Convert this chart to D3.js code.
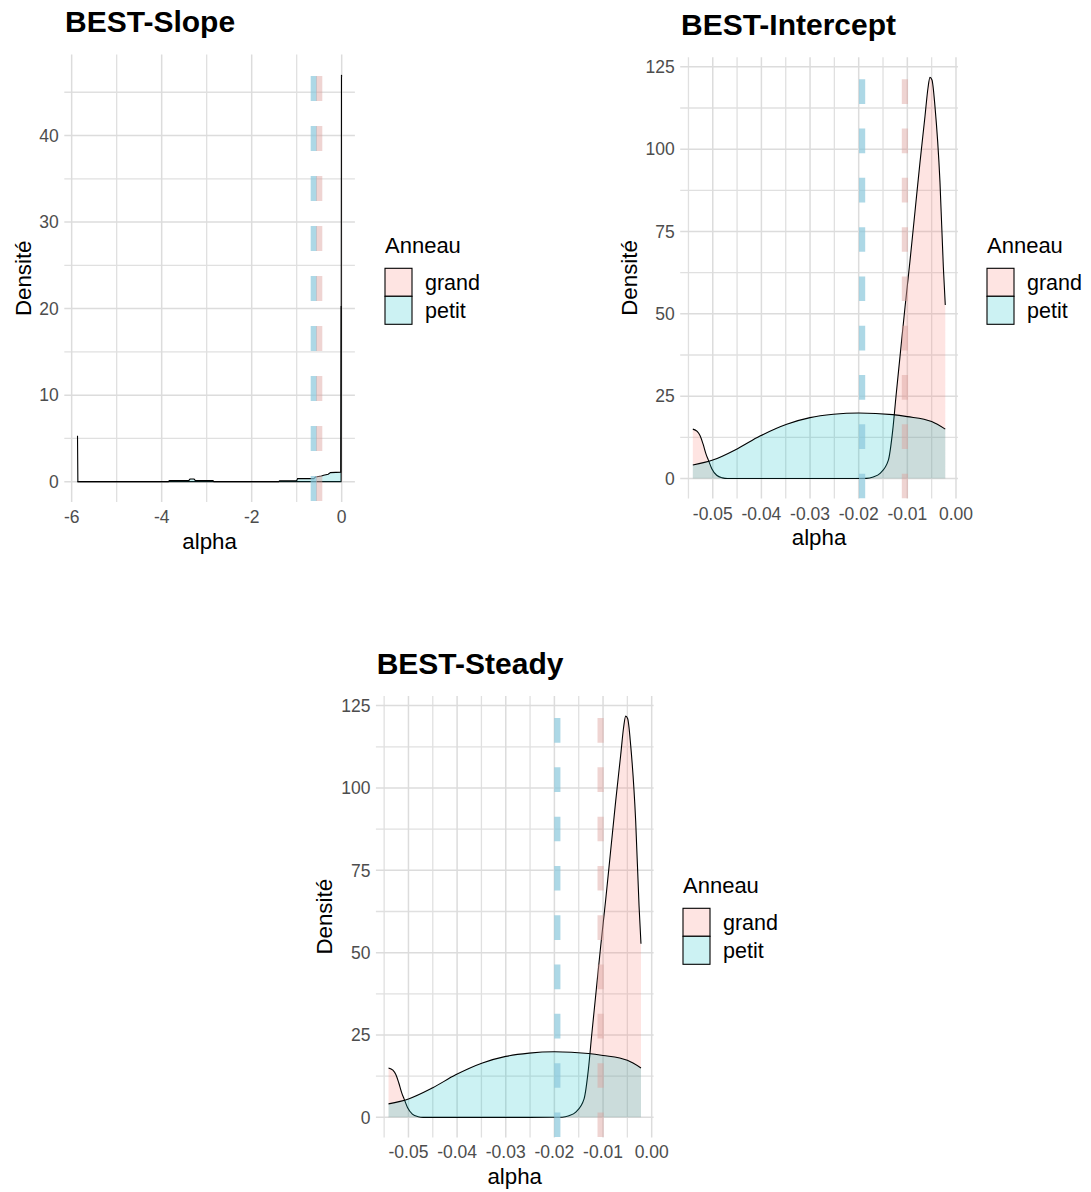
<!DOCTYPE html>
<html>
<head>
<meta charset="utf-8">
<script src="https://cdn.jsdelivr.net/npm/d3@7"></script>
<style>
  body { margin: 0; background: #fff; }
  svg { display: block; }
  text { font-family: "Liberation Sans", Arial, Helvetica, sans-serif; }
</style>
</head>
<body>
<svg id="chart" width="1091" height="1192"></svg>
<script>
// ---------------- DATA ----------------
const groups = ["grand", "petit"];
const legendTitle = "Anneau";
const xAxisTitle = "alpha";
const yAxisTitle = "Densité";
const panelTitles = ["BEST-Slope", "BEST-Intercept", "BEST-Steady"];

// BEST-Slope densities
const slopeGrandX = [-5.87, -0.014, -0.005, 0.0];
const slopeGrandY = [0, 0, 47.0, 46.8];
const slopePetitX = [-5.87, -5.862, -3.85, -3.83, -3.40, -3.37, -3.28, -3.25, -2.86, -2.84, -1.40, -1.38, -1.00, -0.98, -0.62, -0.58, -0.45, -0.40, -0.30, -0.25, -0.02, -0.012];
const slopePetitY = [5.3, 0, 0, 0.12, 0.12, 0.3, 0.3, 0.12, 0.12, 0, 0, 0.1, 0.12, 0.35, 0.35, 0.55, 0.65, 0.75, 0.85, 1.05, 1.1, 20.3];
const slopeMeans = { petit: -0.62, grand: -0.50 };
const slopeXTicks = [-6, -4, -2, 0];
const slopeXTickLabels = ["-6", "-4", "-2", "0"];
const slopeXMinor = [-5, -3, -1];
const slopeYTicks = [0, 10, 20, 30, 40];
const slopeYTickLabels = ["0", "10", "20", "30", "40"];
const slopeYMinor = [5, 15, 25, 35, 45];

// BEST-Intercept densities
const interceptGrandX = [-0.0541, -0.0532, -0.0526, -0.0520, -0.0514, -0.0509, -0.0502, -0.0492, -0.0480, -0.0470, -0.0400, -0.0250, -0.0184, -0.0170, -0.0156, -0.0139, -0.0130, -0.01233, -0.01151, -0.01048, -0.00946, -0.00843, -0.0074, -0.00637, -0.00576, -0.00535, -0.00493, -0.00432, -0.00329, -0.0026, -0.0022];
const interceptGrandY = [15.0, 14.3, 13.0, 10.5, 7.5, 5.6, 3.0, 1.0, 0.2, 0, 0, 0, 0.05, 0.5, 1.6, 5.6, 14.7, 25, 37, 52, 66, 81, 96, 110, 118.5, 121.8, 121, 113, 90, 64.3, 52.7];
const interceptPetitX = [-0.0541, -0.0500, -0.0450, -0.0403, -0.0348, -0.0300, -0.0252, -0.0200, -0.0130, -0.0100, -0.0050, -0.0022];
const interceptPetitY = [4.1, 5.6, 9.0, 12.9, 16.5, 18.5, 19.5, 19.9, 19.4, 18.8, 17.3, 15.0];
const interceptMeans = { petit: -0.0193, grand: -0.0105 };

// BEST-Steady densities
const steadyGrandX = [-0.0541, -0.0532, -0.0526, -0.0520, -0.0514, -0.0509, -0.0502, -0.0492, -0.0480, -0.0470, -0.0400, -0.0250, -0.0184, -0.0170, -0.0156, -0.0139, -0.0130, -0.01233, -0.01151, -0.01048, -0.00946, -0.00843, -0.0074, -0.00637, -0.00576, -0.00535, -0.00493, -0.00432, -0.00329, -0.0026, -0.0022];
const steadyGrandY = [15.0, 14.3, 13.0, 10.5, 7.5, 5.6, 3.0, 1.0, 0.2, 0, 0, 0, 0.05, 0.5, 1.6, 5.6, 14.7, 25, 37, 52, 66, 81, 96, 110, 118.5, 121.8, 121, 113, 90, 64.3, 52.7];
const steadyPetitX = [-0.0541, -0.0500, -0.0450, -0.0403, -0.0348, -0.0300, -0.0252, -0.0200, -0.0130, -0.0100, -0.0050, -0.0022];
const steadyPetitY = [4.1, 5.6, 9.0, 12.9, 16.5, 18.5, 19.5, 19.9, 19.4, 18.8, 17.3, 15.0];
const steadyMeans = { petit: -0.0194, grand: -0.0105 };

const smallXTicks = [-0.05, -0.04, -0.03, -0.02, -0.01, 0.00];
const smallXTickLabels = ["-0.05", "-0.04", "-0.03", "-0.02", "-0.01", "0.00"];
const smallXMinor = [-0.055, -0.045, -0.035, -0.025, -0.015, -0.005];
const bigYTicks = [0, 25, 50, 75, 100, 125];
const bigYTickLabels = ["0", "25", "50", "75", "100", "125"];
const bigYMinor = [12.5, 37.5, 62.5, 87.5, 112.5];

// ---------------- STYLE ----------------
const fillColor = { grand: "#F8766D", petit: "#00BFC4" };
const fillOpacity = 0.2;
const vlineStyle = {
  petit: { color: "rgb(138,199,219)", opacity: 0.7 },
  grand: { color: "rgb(220,160,155)", opacity: 0.45 }
};
const FONT_TICK = 17.5, FONT_AXIS = 22.3, FONT_TITLE = 30, FONT_LEG = 21.5, FONT_LEGT = 22;

const svg = d3.select("#chart");
svg.append("rect").attr("width", 1091).attr("height", 1192).attr("fill", "#fff");

const zip = (xs, ys) => xs.map((x, i) => ({ x, y: ys[i] }));

const panels = [
  {
    title: panelTitles[0],
    rect: { l: 64.3, r: 354.9, t: 54.6, b: 502.0 },
    dash: { len: 25, start: 501 },
    data: { grand: zip(slopeGrandX, slopeGrandY), petit: zip(slopePetitX, slopePetitY) },
    means: slopeMeans,
    xTicks: slopeXTicks, xLabels: slopeXTickLabels, xMinor: slopeXMinor,
    yTicks: slopeYTicks, yLabels: slopeYTickLabels, yMinor: slopeYMinor,
    curve: d3.curveLinear,
    legend: { x: 385, y: 253 }
  },
  {
    title: panelTitles[1],
    rect: { l: 680.2, r: 957.9, t: 57.3, b: 498.6 },
    dash: { len: 24.65, start: 498.3 },
    data: { grand: zip(interceptGrandX, interceptGrandY), petit: zip(interceptPetitX, interceptPetitY) },
    means: interceptMeans,
    xTicks: smallXTicks, xLabels: smallXTickLabels, xMinor: smallXMinor,
    yTicks: bigYTicks, yLabels: bigYTickLabels, yMinor: bigYMinor,
    curve: d3.curveMonotoneX,
    legend: { x: 987, y: 253 }
  },
  {
    title: panelTitles[2],
    rect: { l: 375.9, r: 653.6, t: 696.1, b: 1137.4 },
    dash: { len: 24.65, start: 1137.1 },
    data: { grand: zip(steadyGrandX, steadyGrandY), petit: zip(steadyPetitX, steadyPetitY) },
    means: steadyMeans,
    xTicks: smallXTicks, xLabels: smallXTickLabels, xMinor: smallXMinor,
    yTicks: bigYTicks, yLabels: bigYTickLabels, yMinor: bigYMinor,
    curve: d3.curveMonotoneX,
    legend: { x: 683, y: 893 }
  }
];

function expand(ext, f) {
  const d = (ext[1] - ext[0]) * f;
  return [ext[0] - d, ext[1] + d];
}

panels.forEach(p => {
  const R = p.rect;
  const allPts = groups.flatMap(g => p.data[g]);
  const x = d3.scaleLinear().domain(expand(d3.extent(allPts, d => d.x), 0.05)).range([R.l, R.r]);
  const y = d3.scaleLinear().domain(expand([0, d3.max(allPts, d => d.y)], 0.05)).range([R.b, R.t]);
  const g = svg.append("g");

  // grid
  const grid = g.append("g");
  grid.selectAll("line.vminor").data(p.xMinor).join("line")
    .attr("x1", d => x(d)).attr("x2", d => x(d)).attr("y1", R.t).attr("y2", R.b)
    .attr("stroke", "#E0E0E0").attr("stroke-width", 1.3);
  grid.selectAll("line.hminor").data(p.yMinor).join("line")
    .attr("y1", d => y(d)).attr("y2", d => y(d)).attr("x1", R.l).attr("x2", R.r)
    .attr("stroke", "#E0E0E0").attr("stroke-width", 1.3);
  grid.selectAll("line.vmajor").data(p.xTicks).join("line")
    .attr("x1", d => x(d)).attr("x2", d => x(d)).attr("y1", R.t).attr("y2", R.b)
    .attr("stroke", "#DCDCDC").attr("stroke-width", 1.5);
  grid.selectAll("line.hmajor").data(p.yTicks).join("line")
    .attr("y1", d => y(d)).attr("y2", d => y(d)).attr("x1", R.l).attr("x2", R.r)
    .attr("stroke", "#DCDCDC").attr("stroke-width", 1.5);

  // densities
  const area = d3.area().x(d => x(d.x)).y0(y(0)).y1(d => y(d.y)).curve(p.curve);
  const line = d3.line().x(d => x(d.x)).y(d => y(d.y)).curve(p.curve);
  groups.forEach(k => {
    g.append("path").datum(p.data[k]).attr("d", area)
      .attr("fill", fillColor[k]).attr("fill-opacity", fillOpacity);
    g.append("path").datum(p.data[k]).attr("d", line)
      .attr("fill", "none").attr("stroke", "#000").attr("stroke-width", 1.1);
  });

  // mean lines (dashed), drawn bottom-up so dash pattern starts at the bottom
  ["petit", "grand"].forEach(k => {
    g.append("line")
      .attr("x1", x(p.means[k])).attr("x2", x(p.means[k]))
      .attr("y1", p.dash.start).attr("y2", R.t)
      .attr("stroke", vlineStyle[k].color).attr("stroke-opacity", vlineStyle[k].opacity)
      .attr("stroke-width", 6.2).attr("stroke-dasharray", `${p.dash.len} ${p.dash.len}`);
  });

  // tick labels
  const yl = g.append("g");
  yl.selectAll("text").data(p.yTicks).join("text")
    .attr("x", R.l - 5.5).attr("y", d => y(d) + FONT_TICK * 0.36)
    .attr("text-anchor", "end").attr("font-size", FONT_TICK).attr("fill", "#4D4D4D")
    .text((d, i) => p.yLabels[i]);
  g.append("g").selectAll("text").data(p.xTicks).join("text")
    .attr("x", d => x(d)).attr("y", R.b + 21)
    .attr("text-anchor", "middle").attr("font-size", FONT_TICK).attr("fill", "#4D4D4D")
    .text((d, i) => p.xLabels[i]);

  let maxW = 0;
  yl.selectAll("text").each(function () { maxW = Math.max(maxW, this.getComputedTextLength()); });

  // axis titles
  g.append("text").attr("x", (R.l + R.r) / 2).attr("y", R.b + 46.5)
    .attr("text-anchor", "middle").attr("font-size", FONT_AXIS).attr("fill", "#000")
    .text(xAxisTitle);
  const yx = R.l - 5.5 - maxW - 8.7;
  g.append("text").attr("transform", `translate(${yx},${(R.t + R.b) / 2}) rotate(-90)`)
    .attr("text-anchor", "middle").attr("font-size", FONT_AXIS).attr("fill", "#000")
    .text(yAxisTitle);

  // panel title
  g.append("text").attr("x", R.l + 0.8).attr("y", R.t - 22.4)
    .attr("font-size", FONT_TITLE).attr("font-weight", "bold").attr("fill", "#000")
    .text(p.title);

  // legend
  const L = p.legend;
  const lg = g.append("g");
  lg.append("text").attr("x", L.x).attr("y", L.y).attr("font-size", FONT_LEGT).attr("fill", "#000").text(legendTitle);
  const kw = 27, kh = 28, ky0 = L.y + 15.3;
  groups.forEach((k, i) => {
    const ky = ky0 + i * kh;
    lg.append("rect").attr("x", L.x).attr("y", ky).attr("width", kw).attr("height", kh).attr("fill", "#fff");
    lg.append("rect").attr("x", L.x).attr("y", ky).attr("width", kw).attr("height", kh)
      .attr("fill", fillColor[k]).attr("fill-opacity", fillOpacity)
      .attr("stroke", "#000").attr("stroke-width", 1.1);
    lg.append("text").attr("x", L.x + 40).attr("y", ky + kh / 2 + FONT_LEG * 0.36)
      .attr("font-size", FONT_LEG).attr("fill", "#000").text(k);
  });
});
</script>
</body>
</html>
